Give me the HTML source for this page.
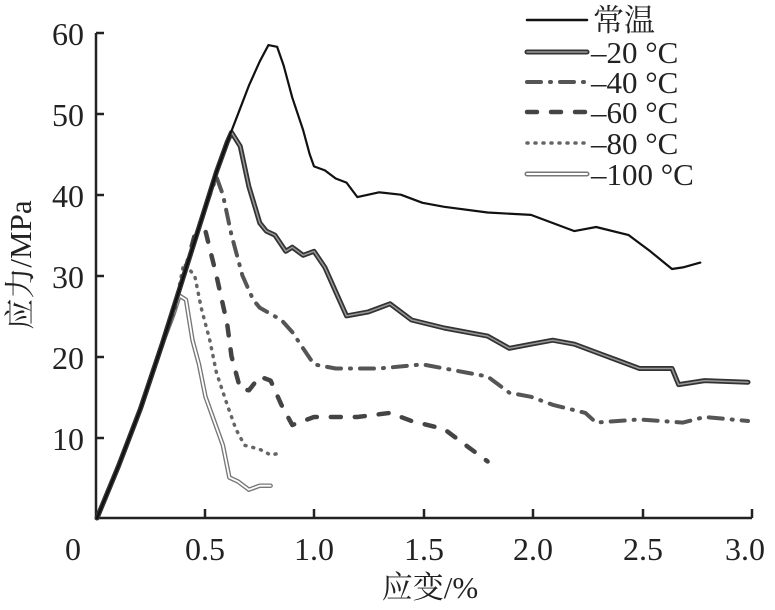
<!DOCTYPE html>
<html><head><meta charset="utf-8"><style>
html,body{margin:0;padding:0;background:#fff}
text{font-family:"Liberation Serif","DejaVu Serif","Noto Serif CJK SC",serif !important;fill:#222}
</style></head><body>
<svg id="s" width="775" height="605" viewBox="0 0 775 605" xmlns="http://www.w3.org/2000/svg">
<rect width="775" height="605" fill="#fff"/>
<g stroke="#222" stroke-width="2.5" fill="none">
<path d="M96 33 V518 H752"/>
<path d="M96 33h8M96 114h8M96 195h8M96 276h8M96 357h8M96 438h8"/>
<path d="M205 518v-9M314 518v-9M424 518v-9M533 518v-9M643 518v-9M752 518v-9"/>
</g>
<g font-size="32" text-anchor="end">
<text x="84" y="45">60</text><text x="84" y="126">50</text><text x="84" y="207">40</text>
<text x="84" y="288">30</text><text x="84" y="369">20</text><text x="84" y="450">10</text>
</g>
<g font-size="32" text-anchor="middle">
<text x="73" y="560">0</text><text x="205" y="560">0.5</text><text x="314" y="560">1.0</text>
<text x="424" y="560">1.5</text><text x="533" y="560">2.0</text><text x="643" y="560">2.5</text><text x="745" y="560">3.0</text>
</g>
<text x="430" y="598" font-size="31" text-anchor="middle">应变/%</text>
<text transform="translate(31,265) rotate(-90)" font-size="31" text-anchor="middle">应力/MPa</text>
<g id="series"></g>
<g stroke-linecap="round" fill="none">
<path d="M527 20h60" stroke="#111" stroke-width="2.5"/>
<path d="M527 52h60" stroke="#333" stroke-width="5"/><path d="M527 52h60" stroke="#999" stroke-width="1.5"/>
<path d="M527 82h60" stroke="#555" stroke-width="4" stroke-dasharray="14,9,1,9"/>
<path d="M527 112h60" stroke="#444" stroke-width="4.5" stroke-dasharray="10,14"/>
<path d="M527 143h60" stroke="#666" stroke-width="3.5" stroke-dasharray="1,7"/>
<path d="M527 174h60" stroke="#777" stroke-width="5"/><path d="M527 174h60" stroke="#fff" stroke-width="2"/>
</g>
<g font-size="31">
<text x="593" y="31">常温</text><text x="591" y="63">–20 °C</text><text x="591" y="93">–40 °C</text>
<text x="591" y="123">–60 °C</text><text x="591" y="154">–80 °C</text><text x="591" y="185">–100 °C</text>
</g>
</svg>
<script>
function P(a){return a.map((p,i)=>(i?'L':'M')+(97+p[0]*217).toFixed(1)+' '+(518-p[1]*8.083).toFixed(1)).join(' ');}
var rise=[[0,0],[0.1,6.5],[0.2,13.5],[0.3,21.5],[0.4,30],[0.5,38.5]];
var s={
a:rise.concat([[0.55,42.8],[0.6,46.5],[0.65,50],[0.7,53.5],[0.75,56.5],[0.79,58.5],[0.83,58.3],[0.86,56],[0.9,52],[0.95,48],[0.98,45],[1.0,43.5],[1.05,43],[1.1,42],[1.15,41.5],[1.2,39.7],[1.3,40.3],[1.4,40],[1.5,39],[1.6,38.5],[1.8,37.8],[2.0,37.5],[2.1,36.5],[2.2,35.5],[2.3,36],[2.45,35],[2.55,33],[2.65,30.8],[2.7,31],[2.78,31.6]]),
b:rise.concat([[0.55,42.8],[0.6,46.5],[0.62,47.7],[0.66,46],[0.7,41],[0.75,36.5],[0.78,35.5],[0.82,35],[0.87,33],[0.9,33.5],[0.95,32.5],[1.0,33],[1.05,31],[1.1,28],[1.15,25],[1.25,25.5],[1.35,26.5],[1.45,24.5],[1.6,23.5],[1.8,22.5],[1.9,21],[2.0,21.5],[2.1,22],[2.2,21.5],[2.3,20.5],[2.4,19.5],[2.5,18.5],[2.65,18.5],[2.68,16.5],[2.8,17],[3.0,16.8]]),
c:rise.concat([[0.55,42.2],[0.58,40],[0.62,35],[0.67,30],[0.72,27],[0.75,26],[0.85,24.5],[0.9,23],[0.95,21],[1.0,19],[1.1,18.5],[1.3,18.5],[1.5,19],[1.7,18],[1.8,17.5],[1.9,15.5],[2.0,15],[2.1,14],[2.25,13],[2.3,11.8],[2.5,12.2],[2.7,11.8],[2.8,12.5],[3.0,12]]),
d:rise.slice(0,5).concat([[0.45,35],[0.5,35.5],[0.55,30],[0.6,24],[0.62,20],[0.66,16],[0.7,15.8],[0.75,17.5],[0.8,17],[0.85,14],[0.9,11.5],[1.0,12.5],[1.2,12.5],[1.35,13],[1.45,12],[1.6,11],[1.7,9],[1.8,7]]),
e:rise.slice(0,4).concat([[0.36,26],[0.4,31.5],[0.45,30],[0.48,26],[0.52,22],[0.55,18],[0.6,14],[0.64,11],[0.68,9],[0.75,8.5],[0.8,7.8],[0.84,8]]),
f:rise.slice(0,4).concat([[0.35,25],[0.38,27.5],[0.41,27],[0.44,22],[0.47,19],[0.5,15],[0.54,12],[0.58,9],[0.61,5],[0.65,4.5],[0.7,3.5],[0.75,4],[0.8,4]])};
var st=[['f','#777',4.5,''],['f','#fff',1.8,''],['e','#666',3.5,'1,7'],['d','#444',4.5,'10,14'],['c','#555',4,'14,9,1,9'],['b','#333',5,''],['b','#999',1.5,''],['a','#111',2.2,'']];
var h='';st.forEach(x=>{h+='<path d="'+P(s[x[0]])+'" fill="none" stroke="'+x[1]+'" stroke-width="'+x[2]+'" stroke-linecap="round" stroke-linejoin="round"'+(x[3]?' stroke-dasharray="'+x[3]+'"':'')+'/>';});
document.getElementById('series').innerHTML=h;
</script>
</body></html>
